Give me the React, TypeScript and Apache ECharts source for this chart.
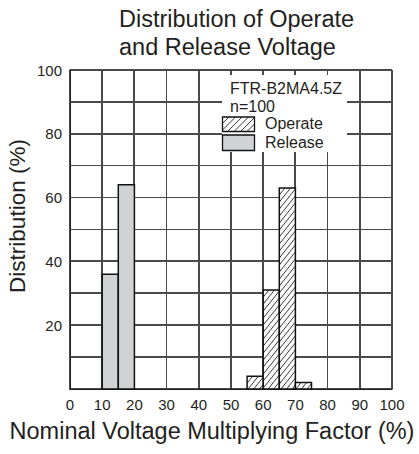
import React, { useEffect, useRef } from "react";
import * as echarts from "echarts";

const binWidth = 5;
const releaseBinStart = [10, 15];
const releaseValues = [36, 64];
const operateBinStart = [55, 60, 65, 70];
const operateValues = [4, 31, 63, 2];
const xGridTicks = [10, 20, 30, 40, 50, 60, 70, 80, 90, 100];
const yGridTicks = [10, 20, 30, 40, 50, 60, 70, 80, 90, 100];
const yLabelTicks = [20, 40, 60, 80, 100];
const modelName = "FTR-B2MA4.5Z";
const sampleSize = "n=100";

const TEXT = "#231f20";
const GRID = "#4a4a4a";
const font = "Liberation Sans, Arial, Helvetica, sans-serif";

function hatchLines(x: number, y: number, w: number, h: number, slope: number, gap: number, color: string) {
  const lines: any[] = [];
  for (let t = -h / slope; t < w; t += gap) {
    const uMin = Math.max(-t, 0);
    const uMax = Math.min(w - t, h / slope);
    if (uMax - uMin > 0.3) {
      lines.push({
        type: "line",
        shape: { x1: x + t + uMin, y1: y + h - slope * uMin, x2: x + t + uMax, y2: y + h - slope * uMax },
        style: { stroke: color, lineWidth: 0.9 },
        silent: true,
      });
    }
  }
  return lines;
}

function makeRender(hatched: boolean) {
  return (params: any, api: any) => {
    const p0 = api.coord([api.value(0), api.value(1)]);
    const p1 = api.coord([api.value(0) + binWidth, 0]);
    const x = p0[0], y = p0[1], w = p1[0] - p0[0], h = p1[1] - p0[1];
    const children: any[] = [
      { type: "rect", shape: { x, y, width: w, height: h }, style: { fill: hatched ? "#ffffff" : "#d1d2d4" } },
    ];
    if (hatched) children.push(...hatchLines(x, y, w, h, 1.25, 5.6, "#222"));
    children.push({ type: "rect", shape: { x, y, width: w, height: h }, style: { fill: "none", stroke: "#111", lineWidth: 1.5 } });
    return { type: "group", children };
  };
}

// grid drawn as thin filled rectangles placed through the axes' scales
const gridRender = (params: any, api: any) => {
  const kind = api.value(0);
  const v = api.value(1);
  const lo = api.coord([0, 0]);
  const hi = api.coord([100, 100]);
  let shape;
  if (kind === 0) {
    const p = api.coord([v, 0]);
    shape = { x: Math.round(p[0]) - 1, y: hi[1], width: 1, height: lo[1] - hi[1] };
  } else {
    const p = api.coord([0, v]);
    shape = { x: lo[0], y: Math.round(p[1]) - 1, width: hi[0] - lo[0], height: 1 };
  }
  return {
    type: "group",
    children: [{ type: "rect", shape, style: { fill: GRID }, silent: true }],
  };
};

export default function App() {
  const ref = useRef<HTMLDivElement>(null);
  useEffect(() => {
    if (!ref.current) return;
    const chart = echarts.init(ref.current, undefined, { renderer: "svg" });
    chart.setOption({
      animation: false,
      grid: { left: 70, top: 70, width: 322, height: 319 },
      title: {
        text: "Distribution of Operate\nand Release Voltage",
        left: 114,
        top: 0,
        textStyle: { fontFamily: font, fontSize: 23.5, fontWeight: "normal", color: TEXT, lineHeight: 28 },
      },
      xAxis: {
        type: "value",
        min: 0,
        max: 100,
        interval: 10,
        axisLine: { show: true, lineStyle: { color: "#111", width: 1.5 } },
        axisTick: { show: false },
        axisLabel: { fontFamily: font, fontSize: 15, color: TEXT },
        splitLine: { show: true, lineStyle: { color: GRID } },
      },
      yAxis: {
        type: "value",
        min: 0,
        max: 100,
        interval: 10,
        axisLine: { show: true, lineStyle: { color: "#111", width: 1.5 } },
        axisTick: { show: false },
        axisLabel: {
          fontFamily: font,
          fontSize: 15,
          color: TEXT,
          formatter: (v: number) => (yLabelTicks.includes(v) ? String(v) : ""),
        },
        splitLine: { show: true, lineStyle: { color: GRID } },
      },
      series: [
        {
          name: "grid",
          type: "custom",
          renderItem: gridRender,
          data: [...xGridTicks.map((v) => [0, v]), ...yGridTicks.map((v) => [1, v])],
          encode: { x: 1, y: 1 },
          z: 2,
          silent: true,
        },
        {
          name: "Release",
          type: "custom",
          renderItem: makeRender(false),
          encode: { x: 0, y: 1 },
          data: releaseBinStart.map((s, i) => [s, releaseValues[i]]),
          z: 5,
        },
        {
          name: "Operate",
          type: "custom",
          renderItem: makeRender(true),
          encode: { x: 0, y: 1 },
          data: operateBinStart.map((s, i) => [s, operateValues[i]]),
          z: 5,
        },
      ],
      graphic: [
        { type: "rect", shape: { x: 222, y: 75, width: 125, height: 77 }, style: { fill: "#ffffff" }, z: 50 },
        {
          type: "text",
          x: 230,
          y: 88,
          style: { text: modelName, fontFamily: font, fontSize: 16, fill: TEXT, textVerticalAlign: "middle" },
          z: 51,
        },
        {
          type: "text",
          x: 230,
          y: 106.5,
          style: { text: sampleSize, fontFamily: font, fontSize: 16, fill: TEXT, textVerticalAlign: "middle" },
          z: 51,
        },
        ...hatchLines(222.5, 117, 32, 14.5, 1.0, 6.5, "#222").map((l) => ({ ...l, z: 52 })),
        {
          type: "rect",
          shape: { x: 222.5, y: 117, width: 32, height: 14.5 },
          style: { fill: "none", stroke: "#111", lineWidth: 1.3 },
          z: 53,
        },
        {
          type: "rect",
          shape: { x: 222.5, y: 135, width: 32, height: 15.5 },
          style: { fill: "#d1d2d4", stroke: "#111", lineWidth: 1.3 },
          z: 53,
        },
        {
          type: "text",
          x: 265,
          y: 123.5,
          style: { text: "Operate", fontFamily: font, fontSize: 16, fill: TEXT, textVerticalAlign: "middle" },
          z: 53,
        },
        {
          type: "text",
          x: 265,
          y: 142.5,
          style: { text: "Release", fontFamily: font, fontSize: 16, fill: TEXT, textVerticalAlign: "middle" },
          z: 53,
        },
        {
          type: "text",
          x: 212,
          y: 431,
          style: {
            text: "Nominal Voltage Multiplying Factor (%)",
            fontFamily: font,
            fontSize: 23.5,
            fill: TEXT,
            textAlign: "center",
            textVerticalAlign: "middle",
          },
        },
        {
          type: "text",
          x: 17,
          y: 216,
          rotation: Math.PI / 2,
          style: {
            text: "Distribution (%)",
            fontFamily: font,
            fontSize: 22.5,
            fill: TEXT,
            textAlign: "center",
            textVerticalAlign: "middle",
          },
        },
      ],
    });
    return () => chart.dispose();
  }, []);
  return <div ref={ref} style={{ position: "absolute", left: 0, top: 0, width: 419, height: 454 }} />;
}
